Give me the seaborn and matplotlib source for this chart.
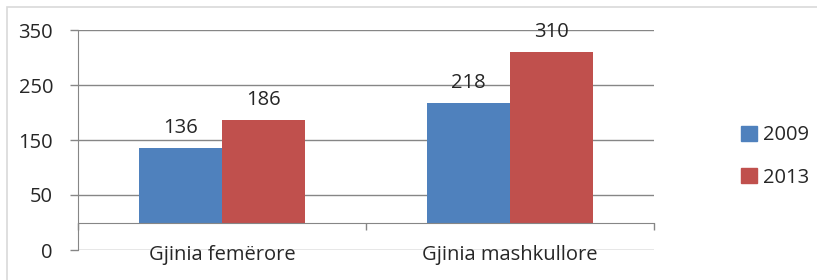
import matplotlib
matplotlib.use("Agg")
import matplotlib.pyplot as plt
import matplotlib.patches as mpatches
import pandas as pd
import seaborn as sns

categories = ["Gjinia femërore", "Gjinia mashkullore"]
years = ["2009", "2013"]
values_2009 = [136, 218]
values_2013 = [186, 310]
ytick_values = [-50, 50, 150, 250, 350]
ytick_labels = ["0", "50", "150", "250", "350"]
colors = ["#4F81BD", "#C0504D"]

df = pd.DataFrame({
    "cat": categories * 2,
    "year": [years[0]] * 2 + [years[1]] * 2,
    "val": values_2009 + values_2013,
})

sns.set_style("white")
plt.rcParams["font.family"] = ["Open Sans", "DejaVu Sans"]
grid_col = "#868686"
fs = 14.5

fig = plt.figure(figsize=(8.17, 2.8), dpi=100)
ax = fig.add_axes([78 / 817, 30 / 280, 576 / 817, 220 / 280])

sns.barplot(data=df, x="cat", y="val", hue="year", palette=colors,
            width=0.577, saturation=1, ax=ax, errorbar=None, linewidth=0)

for cont in ax.containers:
    ax.bar_label(cont, padding=7, fontsize=fs)

ax.set_xlim(-0.5, 1.5)
ax.set_ylim(-50, 350)
ax.set_yticks(ytick_values)
ax.set_yticklabels(ytick_labels, fontsize=fs)
ax.set_xlabel("")
ax.set_ylabel("")
ax.set_axisbelow(True)
ax.yaxis.grid(True, color=grid_col, lw=1)

for s in ["top", "right"]:
    ax.spines[s].set_visible(False)
ax.spines["left"].set_color(grid_col)
ax.spines["bottom"].set_color(grid_col)
ax.spines["bottom"].set_position(("data", 0))

ax.tick_params(axis="y", direction="out", length=6, width=1, color=grid_col, pad=12, left=True)
ax.tick_params(axis="x", which="major", length=0, pad=16, labelsize=fs)
ax.set_xticks([-0.5, 0.5, 1.5], minor=True)
ax.tick_params(axis="x", which="minor", direction="out", length=5, width=1, color=grid_col, bottom=True)

handles = [mpatches.Patch(color=c, label=y) for c, y in zip(colors, years)]
ax.legend(handles=handles, loc="center left", bbox_to_anchor=(1.12, 0.425),
          frameon=False, fontsize=fs, handlelength=0.8, handleheight=0.8,
          handletextpad=0.3, labelspacing=1.1)

fig.patches.append(mpatches.Rectangle((7 / 817, -0.05), 1.0, 0.975 + 0.05,
                                      transform=fig.transFigure, fill=False,
                                      edgecolor="#D9D9D9", lw=1.2))

fig.savefig("out.png", dpi=100)
